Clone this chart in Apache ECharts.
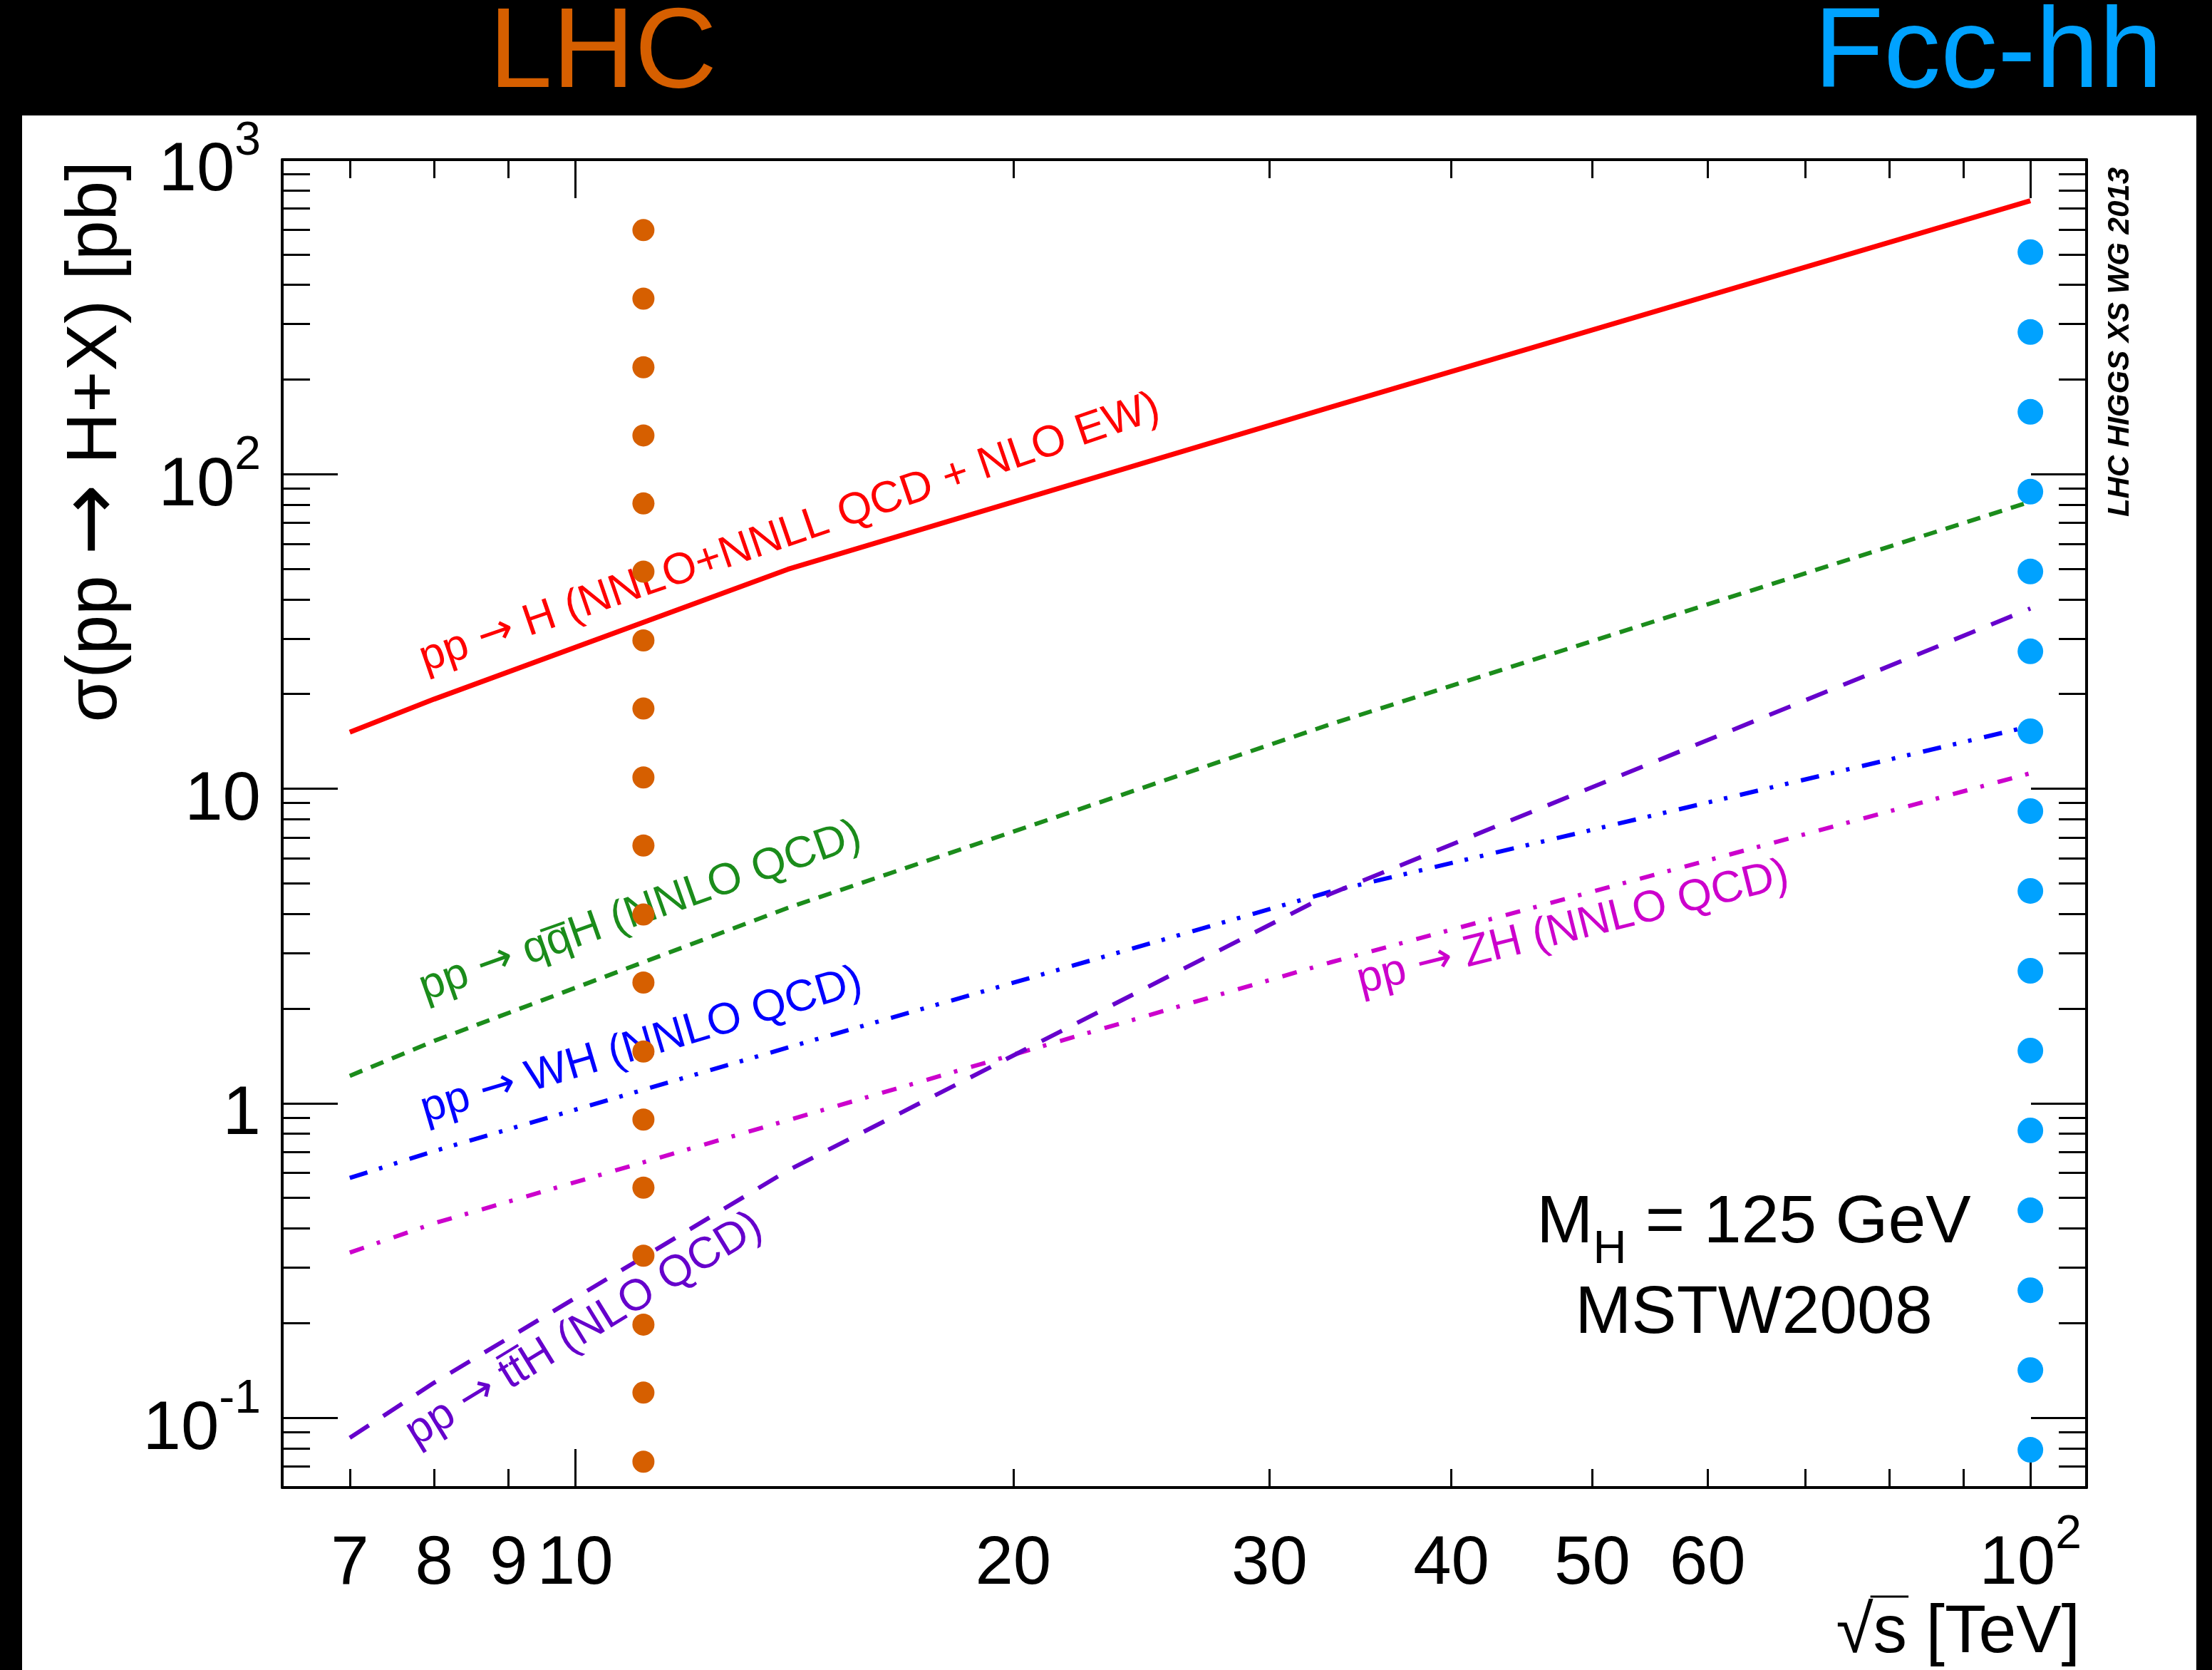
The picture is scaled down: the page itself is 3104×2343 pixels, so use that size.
<!DOCTYPE html>
<html>
<head>
<meta charset="utf-8">
<script src="https://cdn.jsdelivr.net/npm/echarts@6/dist/echarts.min.js"></script>
<style>
  html, body { margin: 0; padding: 0; background: #000; }
  #main { width: 3104px; height: 2343px; }
</style>
</head>
<body>
<div id="main"></div>
<script>
// Centre-of-mass energies (TeV) at which the cross sections are evaluated
const energies = [7, 8, 14, 33, 100];

// σ(pp → H+X) in pb, M_H = 125 GeV, MSTW2008 PDFs
const ggH  = [15.13, 19.27, 49.85, 163.0, 740.0];
const vbfH = [1.222, 1.578, 4.180, 16.0, 81.7];
const wH   = [0.5785, 0.7046, 1.504, 4.70, 15.8];
const zH   = [0.3351, 0.4153, 0.8830, 2.80, 11.2];
const ttH  = [0.0863, 0.1293, 0.6113, 4.62, 37.4];

// Dotted marker columns: LHC (left) and FCC-hh at 100 TeV (right)
const lhcDotEnergy = 11.14;
const lhcDotValues = [597, 361.6, 218.7, 132.8, 80.7, 49.0, 29.6, 17.98, 10.86, 6.596,
                      3.983, 2.419, 1.461, 0.8873, 0.5391, 0.3276, 0.1978, 0.1202, 0.0725];
const fccDotEnergy = 100;
const fccDotValues = [508.2, 283.2, 157.8, 87.99, 49.05, 27.33, 15.23, 8.49, 4.732, 2.637,
                      1.470, 0.8194, 0.4566, 0.2544, 0.1418, 0.0791];

// Axis ranges and tick positions
const xRange = [6.29, 109.3];
const yRange = [0.06, 1000];
const xMinorTicks = [7, 8, 9, 20, 30, 40, 50, 60, 70, 80, 90];
const xMajorTicks = [10, 100];
const xLabelValues = [7, 8, 9, 10, 20, 30, 40, 50, 60, 100];
const yMajorTicks = [0.1, 1, 10, 100, 1000];
const yMinorTicks = [0.07, 0.08, 0.09,
                     0.2, 0.3, 0.4, 0.5, 0.6, 0.7, 0.8, 0.9,
                     2, 3, 4, 5, 6, 7, 8, 9,
                     20, 30, 40, 50, 60, 70, 80, 90,
                     200, 300, 400, 500, 600, 700, 800, 900];
const yLabelValues = [0.1, 1, 10, 100, 1000];

// Curve captions: process, anchor (energy, σ) at the start of the caption, slope angle in degrees
const curveCaptions = [
  { process: 'H (NNLO+NNLL QCD + NLO EW)', at: [7.926, 21.98], angle: 19 },
  { process: 'qq\u0305H (NNLO QCD)',          at: [7.926, 1.975], angle: 19.5 },
  { process: 'WH (NNLO QCD)',                at: [7.926, 0.810], angle: 16.5 },
  { process: 'ZH (NNLO QCD)',                at: [34.8, 2.08],   angle: 14 },
  { process: 'tt\u0305H (NLO QCD)',           at: [7.84, 0.0759], angle: 31.5 }
];

const FONT = '"Liberation Sans", Arial, Helvetica, sans-serif';
const ARROW_FONT = '"DejaVu Sans", sans-serif';
const RED = '#ff0000', GREEN = '#1b8c1b', BLUE = '#0000ff', MAGENTA = '#cc00cc', VIOLET = '#6600cc';
const ORANGE = '#d65f00', SKY = '#00a2ff';
const captionColors = [RED, GREEN, BLUE, MAGENTA, VIOLET];

// Tick label text: powers of ten other than 1 and 10 get a superscript exponent
function powerLabel(v) {
  const e = Math.round(Math.log10(v));
  if (Math.abs(v - Math.pow(10, e)) > 1e-9 * v) return '{b|' + v + '}';
  if (e === 0) return '{b|1}';
  if (e === 1) return '{b|10}';
  return '{b|10}{s|' + (e < 0 ? '-' : '') + Math.abs(e) + '}';
}
const tickRich = {
  b: { fontSize: 96, lineHeight: 150, fontFamily: FONT, color: '#000' },
  s: { fontSize: 66, padding: [0, 0, 84, 0], fontFamily: FONT, color: '#000' }
};
const tickLine = { color: '#000', width: 3 };

function logAxis(range, position, ticks, tickLen, showLine, label) {
  return {
    type: 'log', logBase: 10, min: range[0], max: range[1], position: position,
    splitLine: { show: false },
    minorTick: { show: false },
    axisLine: { show: showLine, onZero: false, lineStyle: { color: '#000', width: 4 } },
    axisTick: { show: true, inside: true, length: tickLen, customValues: ticks, lineStyle: tickLine },
    axisLabel: label || { show: false }
  };
}

const xLabel = { show: true, customValues: xLabelValues, formatter: powerLabel, margin: 34, rich: tickRich };
const yLabel = { show: true, customValues: yLabelValues, formatter: powerLabel, margin: 30,
                 padding: [34, 0, 0, 0], rich: tickRich };

function curve(values, color, dash, width) {
  return {
    type: 'line', xAxisIndex: 0, yAxisIndex: 0,
    data: energies.map((e, i) => [e, values[i]]),
    symbol: 'none', showSymbol: false, smooth: false, silent: true, z: 3,
    lineStyle: { color: color, width: width, type: dash, cap: 'butt' }
  };
}
function dots(energy, values, color, size) {
  return {
    type: 'scatter', xAxisIndex: 0, yAxisIndex: 0,
    data: values.map(v => [energy, v]),
    symbol: 'circle', symbolSize: size, silent: true, z: 10,
    itemStyle: { color: color, opacity: 1 }
  };
}

const chart = echarts.init(document.getElementById('main'), null, { renderer: 'canvas', width: 3104, height: 2343 });

chart.setOption({
  animation: false,
  backgroundColor: '#000',
  grid: { left: 396, top: 224, right: 176, bottom: 256, containLabel: false, outerBoundsMode: 'none' },
  xAxis: [
    logAxis(xRange, 'bottom', xMinorTicks, 26, true, xLabel),
    logAxis(xRange, 'bottom', xMajorTicks, 54, false),
    logAxis(xRange, 'top', xMinorTicks, 26, true),
    logAxis(xRange, 'top', xMajorTicks, 54, false)
  ],
  yAxis: [
    logAxis(yRange, 'left', yMinorTicks, 39, true, yLabel),
    logAxis(yRange, 'left', yMajorTicks, 78, false),
    logAxis(yRange, 'right', yMinorTicks, 39, true),
    logAxis(yRange, 'right', yMajorTicks, 78, false)
  ],
  series: [
    curve(ggH, RED, 'solid', 7),
    curve(vbfH, GREEN, [19, 13], 6),
    curve(wH, BLUE, [26, 17, 5, 17, 5, 18], 6),
    curve(zH, MAGENTA, [21, 19, 5, 20], 6),
    curve(ttH, VIOLET, [32, 24], 6),
    dots(lhcDotEnergy, lhcDotValues, ORANGE, 31),
    dots(fccDotEnergy, fccDotValues, SKY, 36)
  ]
});

// Captions along the curves, anchored in data space
const toPixel = p => chart.convertToPixel({ xAxisIndex: 0, yAxisIndex: 0 }, p);
const captions = curveCaptions.map((c, i) => {
  const p = toPixel(c.at);
  const col = captionColors[i];
  return {
    type: 'text', x: p[0], y: p[1], rotation: c.angle * Math.PI / 180, z: 5, silent: true,
    style: {
      text: '{t|pp }{a|\u2192}{t| ' + c.process + '}',
      align: 'left', verticalAlign: 'bottom',
      rich: {
        t: { fontSize: 62, fontFamily: FONT, fill: col, color: col },
        a: { fontSize: 60, fontFamily: ARROW_FONT, fill: col, color: col }
      }
    }
  };
});

// Overline over the "s" of √s
const measure = document.createElement('canvas').getContext('2d');
measure.font = '95px "Liberation Sans"';
const tailW = measure.measureText(' [TeV]').width;
const sW = measure.measureText('s').width;
const xTitleRight = 2919;

chart.setOption({
  graphic: [
    { type: 'rect', silent: true, z: -10, shape: { x: 31, y: 162, width: 3051, height: 2181 },
      style: { fill: '#fff' } },
    { type: 'text', x: 846, y: 78, silent: true,
      style: { text: 'LHC', fill: ORANGE, fontSize: 160, fontFamily: FONT, align: 'center', verticalAlign: 'middle' } },
    { type: 'text', x: 2790, y: 78, silent: true,
      style: { text: 'Fcc-hh', fill: SKY, fontSize: 160, fontFamily: FONT, align: 'center', verticalAlign: 'middle' } },
    { type: 'text', x: 135, y: 226, rotation: Math.PI / 2, silent: true,
      style: { text: '{t|\u03c3(pp }{a|\u2192}{t| H+X) [pb]}', align: 'right', verticalAlign: 'middle',
               rich: { t: { fontSize: 100, fontFamily: FONT, fill: '#000', color: '#000' },
                       a: { fontSize: 120, fontFamily: ARROW_FONT, fill: '#000', color: '#000' } } } },
    { type: 'text', x: 2975, y: 235, rotation: Math.PI / 2, silent: true,
      style: { text: 'LHC HIGGS XS WG 2013', fill: '#000', fontSize: 42, fontFamily: FONT,
               fontWeight: 'bold', fontStyle: 'italic', align: 'right', verticalAlign: 'middle' } },
    { type: 'text', x: 2461, y: 1717, silent: true,
      style: { text: '{m|M}{h|H}{m| = 125 GeV}', align: 'center', verticalAlign: 'middle',
               rich: { m: { fontSize: 95, fontFamily: FONT, fill: '#000', color: '#000' },
                       h: { fontSize: 65, fontFamily: FONT, fill: '#000', color: '#000', padding: [75, 0, 0, 0] } } } },
    { type: 'text', x: 2461, y: 1844, silent: true,
      style: { text: 'MSTW2008', fill: '#000', fontSize: 95, fontFamily: FONT, align: 'center', verticalAlign: 'middle' } },
    { type: 'text', x: xTitleRight, y: 2292, silent: true,
      style: { text: '\u221as [TeV]', fill: '#000', fontSize: 95, fontFamily: FONT, align: 'right', verticalAlign: 'middle' } },
    { type: 'line', silent: true,
      shape: { x1: xTitleRight - tailW - sW - 4, y1: 2240, x2: xTitleRight - tailW + 2, y2: 2240 },
      style: { stroke: '#000', lineWidth: 3 } }
  ].concat(captions)
});
</script>
</body>
</html>
